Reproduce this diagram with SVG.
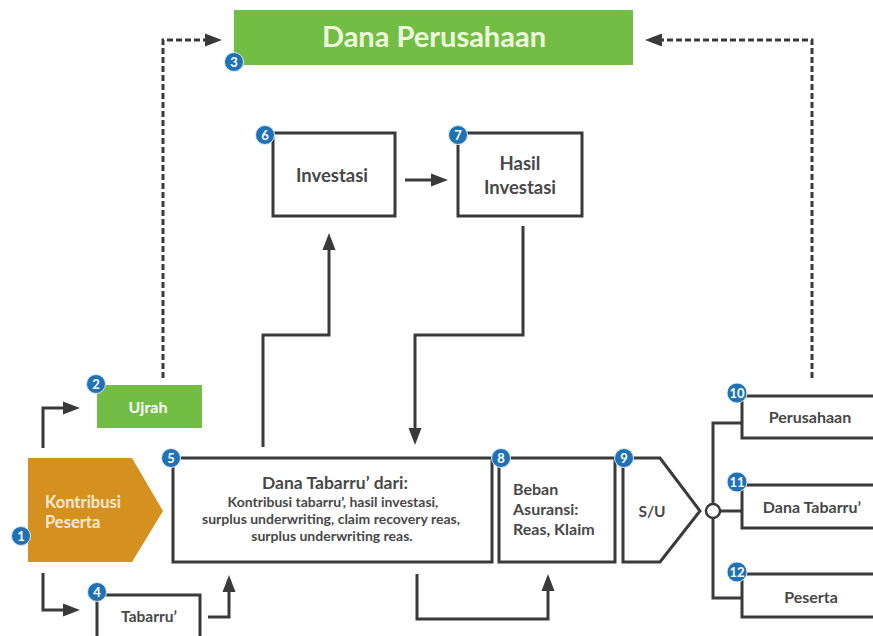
<svg xmlns="http://www.w3.org/2000/svg" width="873" height="636" viewBox="0 0 873 636">
<style>
.box{fill:#fff;stroke:#3a3a3a;stroke-width:3}
.ln{fill:none;stroke:#3a3a3a;stroke-width:3}
.dash{fill:none;stroke:#3a3a3a;stroke-width:3;stroke-dasharray:6 3}
.t{font-family:Lato,'Open Sans','Liberation Sans',sans-serif;fill:#484848;font-weight:700}
.badge circle{fill:#1f72b5;stroke:#dbe9f5;stroke-width:1}
.badge text{font-family:Lato,'Open Sans','Liberation Sans',sans-serif;font-weight:700;font-size:13px;fill:#fff;text-anchor:middle}
</style>
<defs>
<marker id="ah" markerUnits="userSpaceOnUse" markerWidth="18" markerHeight="14" refX="12" refY="7" orient="auto">
<path d="M0,0.5 L17,7 L0,13.5 Z" fill="#3a3a3a"/>
</marker>
</defs>
<rect width="873" height="636" fill="#fff"/>
<g id="connectors">
<path class="dash" d="M163,378 V40 H217" marker-end="url(#ah)"/>
<path class="dash" d="M812,378 V40 H650" marker-end="url(#ah)"/>
<path class="ln" d="M43,448 V408 H75" marker-end="url(#ah)"/>
<path class="ln" d="M43,573 V610 H75" marker-end="url(#ah)"/>
<path class="ln" d="M208,617 H229 V580" marker-end="url(#ah)"/>
<path class="ln" d="M263,447 V335 H329 V238" marker-end="url(#ah)"/>
<path class="ln" d="M523,226 V335 H415 V440" marker-end="url(#ah)"/>
<path class="ln" d="M405,180 H443" marker-end="url(#ah)"/>
<path class="ln" d="M417,574 V619 H548 V579" marker-end="url(#ah)"/>
<path class="ln" d="M742,423 H713 V598 H742"/>
<path class="ln" d="M720,511 H742"/>
<circle cx="713" cy="511" r="7" fill="#fff" stroke="#3a3a3a" stroke-width="2.5"/>
</g>
<g id="n3">
<rect x="234" y="10" width="399" height="55" fill="#72be44"/>
<text class="t" x="434" y="47" font-size="29" text-anchor="middle" style="fill:#eef8df">Dana Perusahaan</text>
<g class="badge"><circle cx="234" cy="62" r="9.5"/><text x="234" y="66.5">3</text></g>
</g>
<g id="n2">
<rect x="97" y="385" width="105" height="43" fill="#72be44"/>
<text class="t" x="148" y="413" font-size="16" text-anchor="middle" style="fill:#fff">Ujrah</text>
<g class="badge"><circle cx="96" cy="384" r="9.5"/><text x="96" y="388.5">2</text></g>
</g>
<g id="n1">
<polygon points="28,458 132,458 163,511 132,562 28,562" fill="#d5911f"/>
<text class="t" font-size="16.5" style="fill:#fbead0"><tspan x="45" y="508">Kontribusi</tspan><tspan x="45" y="528">Peserta</tspan></text>
<g class="badge"><circle cx="21" cy="536" r="9.5"/><text x="21" y="540.5">1</text></g>
</g>
<g id="n4">
<rect class="box" x="97" y="595" width="103" height="60"/>
<text class="t" x="149" y="622" font-size="15.5" text-anchor="middle">Tabarru’</text>
<g class="badge"><circle cx="97" cy="592" r="9.5"/><text x="97" y="596.5">4</text></g>
</g>
<g id="n5">
<rect class="box" x="173" y="458" width="319" height="104"/>
<text class="t" text-anchor="middle"><tspan x="335" y="489" font-size="17.5">Dana Tabarru’ dari:</tspan><tspan x="333" y="507" font-size="14">Kontribusi tabarru’, hasil investasi,</tspan><tspan x="331" y="524" font-size="14">surplus underwriting, claim recovery reas,</tspan><tspan x="332" y="541" font-size="14">surplus underwriting reas.</tspan></text>
<g class="badge"><circle cx="171" cy="458" r="9.5"/><text x="171" y="462.5">5</text></g>
</g>
<g id="n6">
<rect class="box" x="273" y="133" width="122" height="83"/>
<text class="t" x="332" y="182" font-size="18.5" text-anchor="middle">Investasi</text>
<g class="badge"><circle cx="265" cy="135" r="9.5"/><text x="265" y="139.5">6</text></g>
</g>
<g id="n7">
<rect class="box" x="458" y="133" width="124" height="83"/>
<text class="t" text-anchor="middle" font-size="18.5"><tspan x="520" y="170">Hasil</tspan><tspan x="520" y="194">Investasi</tspan></text>
<g class="badge"><circle cx="458" cy="135" r="9.5"/><text x="458" y="139.5">7</text></g>
</g>
<g id="n8">
<rect class="box" x="499" y="458" width="116" height="104"/>
<text class="t" font-size="16"><tspan x="513" y="495">Beban</tspan><tspan x="513" y="515">Asuransi:</tspan><tspan x="513" y="535">Reas, Klaim</tspan></text>
<g class="badge"><circle cx="501" cy="458" r="9.5"/><text x="501" y="462.5">8</text></g>
</g>
<g id="n9">
<polygon class="box" points="623,458 660,458 700,511 660,562 623,562"/>
<text class="t" x="652" y="517" font-size="15.5" text-anchor="middle">S/U</text>
<g class="badge"><circle cx="624" cy="458" r="9.5"/><text x="624" y="462.5">9</text></g>
</g>
<g id="n10">
<rect class="box" x="742" y="396" width="150" height="42"/>
<text class="t" x="810" y="423" font-size="16" text-anchor="middle">Perusahaan</text>
<g class="badge"><circle cx="737" cy="393" r="10"/><text x="737" y="397.5">10</text></g>
</g>
<g id="n11">
<rect class="box" x="742" y="485" width="150" height="43"/>
<text class="t" x="812" y="513" font-size="16" text-anchor="middle">Dana Tabarru’</text>
<g class="badge"><circle cx="737" cy="482" r="10"/><text x="737" y="486.5">11</text></g>
</g>
<g id="n12">
<rect class="box" x="742" y="574" width="150" height="43"/>
<text class="t" x="811" y="603" font-size="16" text-anchor="middle">Peserta</text>
<g class="badge"><circle cx="737" cy="572" r="10"/><text x="737" y="576.5">12</text></g>
</g>
</svg>
